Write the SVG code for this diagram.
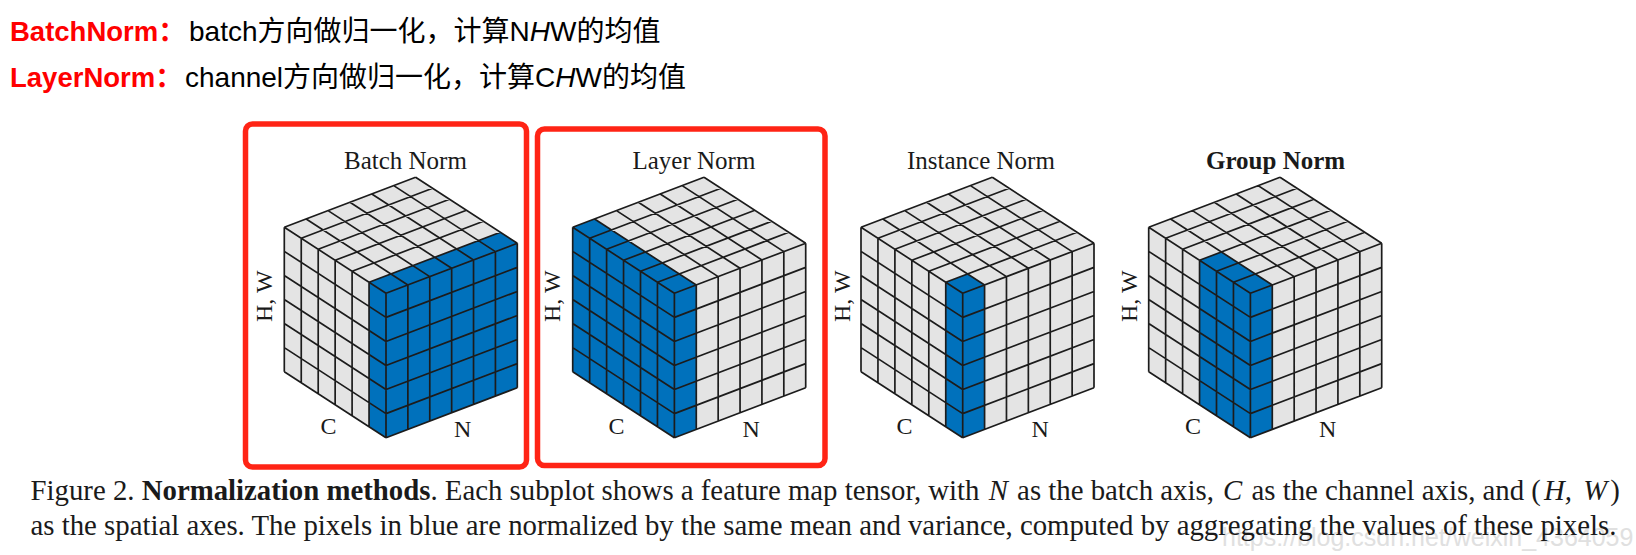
<svg xmlns="http://www.w3.org/2000/svg" width="1636" height="555" viewBox="0 0 1636 555">
<style>
text{font-family:"Liberation Serif",serif;fill:#1a1a1a}
.head{font-family:"Liberation Sans","Noto Sans CJK SC",sans-serif;font-size:28px;fill:#000}
.red{font-family:"Liberation Sans","Noto Sans CJK SC",sans-serif;font-size:27.5px;font-weight:700;fill:#ff0000}
.title{font-size:25px}
.axis{font-size:24px}
.cap{font-size:28.8px}
.box{fill:none;stroke:#ff2415;stroke-width:5.5}
.base{fill:#e4e4e4}
.blue{fill:#0071bc}
.grid{fill:none;stroke:#1c1c1c;stroke-width:1.7;stroke-linejoin:round}
.wm{font-family:"Liberation Sans",sans-serif;font-size:25px;fill:#e0e0e0}
</style>
<defs>
<polygon id="face" class="base" points="0,0 131.3,-50 233,16 233,160.4 101.7,210.4 0,144.4"/>
<path id="grid" class="grid" d="M0 0V144.4M16.95 11v144.4M33.9 22v144.4M50.85 33v144.4M67.8 44v144.4M84.75 55v144.4M101.7 66v144.4
M0 0l101.7 66M0 24.07l101.7 66M0 48.13l101.7 66M0 72.2l101.7 66M0 96.27l101.7 66M0 120.33l101.7 66M0 144.4l101.7 66
M123.58 57.67v144.4M145.47 49.33v144.4M167.35 41v144.4M189.23 32.67v144.4M211.12 24.33v144.4M233 16v144.4
M101.7 66l131.3 -50M101.7 90.07l131.3 -50M101.7 114.13l131.3 -50M101.7 138.2l131.3 -50M101.7 162.27l131.3 -50M101.7 186.33l131.3 -50M101.7 210.4l131.3 -50
M21.88 -8.33l101.7 66M43.77 -16.67l101.7 66M65.65 -25l101.7 66M87.53 -33.33l101.7 66M109.42 -41.67l101.7 66M131.3 -50l101.7 66
M0 0l131.3 -50M16.95 11l131.3 -50M33.9 22l131.3 -50M50.85 33l131.3 -50M67.8 44l131.3 -50M84.75 55l131.3 -50"/>
</defs>
<rect width="1636" height="555" fill="#fff"/>
<g id="header">
<text class="red" x="10" y="41">BatchNorm：</text>
<text class="head" x="189" y="41">batch方向做归一化，计算N<tspan font-style="italic">H</tspan>W的均值</text>
<text class="red" x="10" y="87">LayerNorm：</text>
<text class="head" x="185" y="87">channel方向做归一化，计算C<tspan font-style="italic">H</tspan>W的均值</text>
</g>
<g id="batch-norm">
<rect class="box" x="245.5" y="124" width="281" height="343" rx="7"/>
<g transform="translate(284.3 227.3)"><use href="#face"/><polygon class="blue" points="84.75,55 216.05,5 233,16 233,160.4 101.7,210.4 84.75,199.4"/><use href="#grid"/></g>
<text class="title" x="344" y="169">Batch Norm</text>
<text class="axis" transform="translate(272 322) rotate(-90)">H, W</text>
<text class="axis" x="320.5" y="434">C</text>
<text class="axis" x="454" y="436.5">N</text>
</g>
<g id="layer-norm">
<rect class="box" x="537.5" y="129" width="287.5" height="336.5" rx="7"/>
<g transform="translate(572.7 227.3)"><use href="#face"/><polygon class="blue" points="0,0 21.88,-8.33 123.58,57.67 123.58,202.07 101.7,210.4 0,144.4"/><use href="#grid"/></g>
<text class="title" x="632.5" y="169">Layer Norm</text>
<text class="axis" transform="translate(560 322) rotate(-90)">H, W</text>
<text class="axis" x="608.5" y="434">C</text>
<text class="axis" x="742.5" y="436.5">N</text>
</g>
<g id="instance-norm">
<g transform="translate(861 227.3)"><use href="#face"/><polygon class="blue" points="84.75,55 106.63,46.67 123.58,57.67 123.58,202.07 101.7,210.4 84.75,199.4"/><use href="#grid"/></g>
<text class="title" x="907" y="169">Instance Norm</text>
<text class="axis" transform="translate(850 322) rotate(-90)">H, W</text>
<text class="axis" x="896.5" y="434">C</text>
<text class="axis" x="1031.5" y="436.5">N</text>
</g>
<g id="group-norm">
<g transform="translate(1148.7 227.3)"><use href="#face"/><polygon class="blue" points="50.85,33 72.73,24.67 123.58,57.67 123.58,202.07 101.7,210.4 50.85,177.4"/><use href="#grid"/></g>
<text class="title" x="1206" y="169" font-weight="700">Group Norm</text>
<text class="axis" transform="translate(1137 322) rotate(-90)">H, W</text>
<text class="axis" x="1185" y="434">C</text>
<text class="axis" x="1319" y="436.5">N</text>
</g>
<g id="caption">
<text class="wm" x="1222" y="546">https://blog.csdn.net/weixin_4364059</text>
<text class="cap" x="30.5" y="500">Figure 2. <tspan font-weight="700">Normalization methods</tspan>. Each subplot shows a feature map tensor, with <tspan font-style="italic" dx="2">N</tspan><tspan dx="2"> as the batch axis, </tspan><tspan font-style="italic" dx="2">C</tspan><tspan dx="2"> as the channel axis, and (</tspan><tspan font-style="italic" dx="3">H, </tspan><tspan font-style="italic" dx="4">W</tspan><tspan dx="3">)</tspan></text>
<text class="cap" x="30.5" y="535">as the spatial axes. The pixels in blue are normalized by the same mean and variance, computed by aggregating the values of these pixels.</text>
</g>
</svg>
